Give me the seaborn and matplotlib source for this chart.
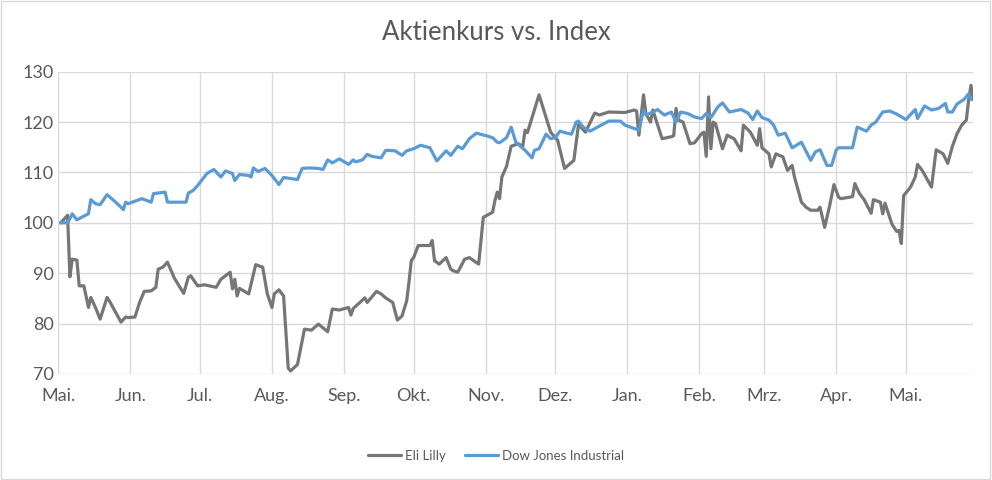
import numpy as np
import pandas as pd
import matplotlib
matplotlib.use("Agg")
import matplotlib.pyplot as plt
import seaborn as sns
from matplotlib.patches import Rectangle
from matplotlib.lines import Line2D

# ---------------- data ----------------
START = "2018-05-01"
END_DAY = 394

tage_lilly = [1, 4, 5, 6, 8, 9, 11, 13, 14, 16, 18, 21, 22, 27, 29, 30, 33, 35, 37, 40,
              42, 43, 45, 47, 50, 54, 56, 57, 60, 63, 65, 68, 70, 74, 75, 76, 77, 78, 82, 85,
              88, 90, 92, 93, 95, 97, 99, 100, 103, 106, 109, 112, 116, 118, 121, 125, 126, 127, 132, 133,
              137, 139, 141, 144, 146, 148, 150, 151, 152, 153, 155, 160, 161, 162, 164, 167, 169, 170, 172, 175,
              177, 181, 183, 187, 188, 189, 190, 191, 193, 195, 198, 200, 201, 202, 203, 207, 210, 212, 215, 218,
              222, 224, 227, 231, 233, 237, 244, 248, 249, 250, 252, 253, 255, 256, 260, 264, 265, 266, 267, 269,
              272, 274, 277, 278, 279, 280, 281, 282, 283, 284, 286, 288, 291, 294, 295, 298, 301, 302, 303, 306,
              307, 309, 312, 314, 316, 317, 320, 322, 324, 327, 328, 330, 332, 334, 336, 337, 342, 343, 345, 347,
              350, 351, 354, 355, 356, 359, 361, 362, 363, 364, 367, 369, 370, 372, 376, 378, 381, 383, 385, 387,
              389, 391, 392, 393, 394]
werte_lilly = [100.0, 101.5, 89.3, 92.8, 92.6, 87.5, 87.5, 83.2, 85.2, 83.2, 80.9, 85.2, 84.5, 80.3, 81.3, 81.2, 81.3, 84.2, 86.4, 86.5,
               87.2, 90.8, 91.2, 92.2, 89.0, 86.0, 89.2, 89.5, 87.5, 87.7, 87.5, 87.2, 88.8, 90.2, 86.9, 88.8, 85.5, 87.0, 85.9, 91.7,
               91.2, 85.9, 83.2, 85.9, 86.7, 85.5, 71.2, 70.6, 71.9, 78.9, 78.7, 79.9, 78.4, 82.9, 82.7, 83.2, 81.7, 83.0, 85.1, 84.2,
               86.4, 85.9, 85.1, 84.2, 80.7, 81.5, 84.5, 88.2, 92.5, 93.1, 95.5, 95.5, 96.5, 92.5, 91.8, 93.1, 90.8, 90.5, 90.2, 92.8,
               93.1, 91.8, 101.1, 102.1, 104.4, 106.1, 104.8, 109.1, 111.2, 115.2, 115.7, 115.2, 118.4, 117.9, 119.4, 125.4, 121.0, 118.0, 116.4, 110.8,
               112.4, 119.5, 118.0, 121.8, 121.4, 122.0, 121.9, 122.4, 122.2, 117.4, 125.4, 121.7, 120.0, 122.4, 116.7, 117.1, 117.3, 122.7, 120.4, 120.0,
               115.7, 115.9, 117.7, 118.0, 113.2, 125.0, 114.7, 120.0, 119.7, 118.0, 114.7, 117.4, 116.7, 114.3, 119.4, 118.0, 115.4, 118.7, 114.9, 113.7,
               111.1, 113.7, 113.1, 110.4, 111.4, 109.1, 104.1, 103.1, 102.5, 102.5, 103.1, 99.1, 103.1, 107.6, 105.1, 104.8, 105.2, 107.8, 105.8, 104.6,
               101.9, 104.6, 104.1, 101.8, 103.9, 99.7, 98.3, 98.5, 95.9, 105.4, 107.1, 109.1, 111.6, 110.4, 107.1, 114.5, 113.7, 111.8, 115.2, 117.7,
               119.4, 120.4, 124.4, 127.3, 124.4]

tage_dow = [1, 4, 6, 8, 10, 13, 14, 16, 18, 21, 24, 27, 28, 29, 30, 36, 40, 41, 46, 47,
            49, 55, 56, 58, 60, 64, 67, 70, 72, 75, 76, 78, 82, 83, 84, 86, 89, 92, 95, 97,
            100, 103, 105, 108, 112, 114, 116, 118, 121, 125, 127, 128, 131, 133, 135, 139, 141, 145, 148, 150,
            153, 156, 160, 163, 167, 169, 172, 174, 177, 180, 185, 187, 189, 190, 193, 195, 197, 201, 204, 205,
            207, 210, 212, 214, 216, 219, 221, 223, 224, 226, 229, 233, 237, 242, 244, 250, 252, 253, 256, 258,
            261, 264, 266, 268, 271, 274, 277, 279, 281, 284, 286, 289, 291, 294, 297, 299, 301, 303, 306, 308,
            310, 313, 316, 320, 324, 326, 328, 331, 333, 335, 336, 342, 344, 348, 350, 352, 355, 358, 361, 365,
            369, 370, 373, 376, 379, 382, 383, 385, 387, 390, 392, 393]
werte_dow = [100.0, 100.0, 101.8, 100.6, 101.1, 101.8, 104.6, 103.8, 103.6, 105.6, 104.4, 103.1, 102.6, 104.1, 103.8, 104.8, 104.1, 105.8, 106.1, 104.1,
             104.1, 104.1, 105.9, 106.4, 107.4, 109.8, 110.6, 109.1, 110.3, 109.8, 108.4, 109.6, 109.4, 109.1, 110.9, 110.2, 110.8, 109.4, 107.6, 109.0,
             108.8, 108.6, 110.8, 110.9, 110.8, 110.6, 112.5, 111.9, 112.7, 111.6, 112.5, 112.1, 112.5, 113.6, 113.2, 112.9, 114.4, 114.3, 113.4, 114.3,
             114.7, 115.4, 114.9, 112.3, 114.3, 113.4, 115.2, 114.7, 116.7, 117.8, 117.2, 116.9, 116.0, 115.9, 116.9, 119.0, 116.0, 114.4, 112.9, 114.4,
             114.7, 117.6, 116.7, 116.9, 118.2, 117.8, 117.6, 120.0, 120.2, 119.0, 118.2, 119.2, 120.2, 120.2, 119.4, 118.4, 122.4, 121.4, 122.0, 122.5,
             121.4, 122.0, 120.0, 122.0, 121.7, 121.0, 120.7, 121.7, 120.9, 123.0, 123.8, 122.0, 122.2, 122.5, 121.8, 120.5, 122.2, 120.9, 120.4, 119.4,
             117.4, 117.8, 114.9, 116.0, 112.4, 114.1, 114.5, 111.4, 111.4, 114.5, 114.9, 114.9, 119.0, 118.2, 119.4, 120.0, 122.0, 122.2, 121.6, 120.5,
             122.5, 120.7, 123.2, 122.4, 122.7, 123.7, 122.0, 122.0, 123.6, 124.5, 125.6, 124.5]

serien = ["Eli Lilly", "Dow Jones Industrial"]
farben = ["#767676", "#5B9BD5"]
monate = ["Mai.", "Jun.", "Jul.", "Aug.", "Sep.", "Okt.", "Nov.", "Dez.",
          "Jan.", "Feb.", "Mrz.", "Apr.", "Mai."]
y_ticks = [70, 80, 90, 100, 110, 120, 130]
titel = "Aktienkurs vs. Index"

# ---------------- build table ----------------
start = pd.Timestamp(START)
df = pd.concat([
    pd.DataFrame({"Datum": start + pd.to_timedelta(tage_lilly, unit="D"),
                  "Wert": werte_lilly, "Serie": serien[0]}),
    pd.DataFrame({"Datum": start + pd.to_timedelta(tage_dow, unit="D"),
                  "Wert": werte_dow, "Serie": serien[1]}),
], ignore_index=True)

sns.set_theme(style="white")
plt.rcParams["font.family"] = ["Lato", "DejaVu Sans"]

fig = plt.figure(figsize=(9.92, 4.8), dpi=100)
ax = fig.add_axes([58.3 / 992, 1 - 374 / 480, (973.3 - 58.3) / 992, (374 - 71.7) / 480])

sns.lineplot(data=df, x="Datum", y="Wert", hue="Serie", hue_order=serien,
             palette=dict(zip(serien, farben)), linewidth=2.3, ax=ax,
             legend=False, estimator=None, sort=True)

ax.set_xlim(start, start + pd.Timedelta(days=END_DAY))
ax.set_ylim(y_ticks[0], y_ticks[-1])
ax.set_yticks(y_ticks)
ticks = pd.date_range(start, periods=len(monate), freq="MS")
ax.set_xticks(ticks)
ax.set_xticklabels(monate)
ax.set_xlabel("")
ax.set_ylabel("")

txt = "#595959"
ax.tick_params(axis="both", length=0, labelsize=13, colors=txt)
ax.tick_params(axis="x", pad=10)
ax.tick_params(axis="y", pad=3)
ax.grid(True, color="#d9d9d9", linewidth=1.0)
ax.set_axisbelow(True)
for s in ax.spines.values():
    s.set_visible(False)

fig.text(0.5, 1 - 33 / 480, titel, ha="center", va="center",
         fontsize=18.5, color=txt)

handles = [Line2D([0], [0], color=c, lw=2.3) for c in farben]
fig.legend(handles, serien, loc="center", bbox_to_anchor=(0.5, 1 - 456 / 480),
           ncol=2, frameon=False, fontsize=9.5, labelcolor=txt,
           handlelength=2.5, handletextpad=0.3, columnspacing=1.5)

fig.add_artist(Rectangle((0.001, 0.002), 0.997, 0.996, transform=fig.transFigure,
                         fill=False, edgecolor="#d9d9d9", linewidth=1.0))

fig.savefig("out.png", dpi=100, facecolor="white")
